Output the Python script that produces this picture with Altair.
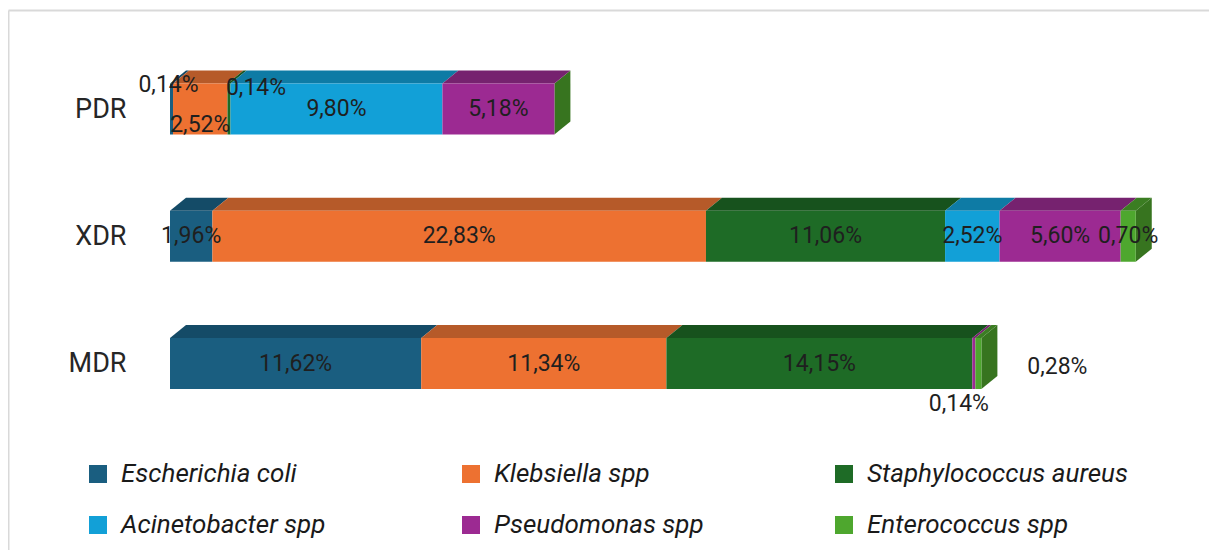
import altair as alt
import pandas as pd

# ---- data ----
categories = ["PDR", "XDR", "MDR"]
species = ["Escherichia coli", "Klebsiella spp", "Staphylococcus aureus",
           "Acinetobacter spp", "Pseudomonas spp", "Enterococcus spp"]
ecoli = [0.14, 1.96, 11.62]
klebsiella = [2.52, 22.83, 11.34]
staph = [0.14, 11.06, 14.15]
acineto = [9.80, 2.52, 0.00]
pseudo = [5.18, 5.60, 0.14]
entero = [0.00, 0.70, 0.28]
series = [ecoli, klebsiella, staph, acineto, pseudo, entero]

# ---- style ----
front_colors = ["#1a5e80", "#ed7131", "#1e6b26", "#12a0d7", "#9c2a92", "#4ea72e"]
top_colors = ["#144b67", "#b65a29", "#17521d", "#0e7ba5", "#76226f", "#3b7d22"]
side_color = "#37741f"
FONT = "Roboto"

W, H = 1201, 540
PX_PER_PCT = 21.62
PX_PER_ROW = 127.25
ZERO_PX = 162
ROW0_PX = 99
DEPTH_X = 16 / PX_PER_PCT
DEPTH_Y = 13 / PX_PER_ROW
HALF = 25.5 / PX_PER_ROW

# label nudges (pixels) for the few labels Excel moved by hand
nudges = {
    "PDR|Escherichia coli": (-3, -24),
    "PDR|Klebsiella spp": (0, 16),
    "PDR|Staphylococcus aureus": (27, -21),
    "MDR|Pseudomonas spp": (-15, 40),
    "MDR|Enterococcus spp": (79, 3),
}

front, top, side = [], [], []
for ri, cat in enumerate(categories):
    start = 0.0
    for si, sp in enumerate(species):
        v = series[si][ri]
        end = start + v
        key = f"{cat}|{sp}"
        front.append(dict(key=key, cat=cat, species=sp, value=v, start=start, end=end,
                          mid=(start + end) / 2, row=ri, y0=ri - HALF, y1=ri + HALF,
                          label=f"{v:.2f}%".replace(".", ",")))
        if v > 0:
            top.append(dict(key=key, yy=ri - HALF, xa=start, xb=end, col=top_colors[si]))
            top.append(dict(key=key, yy=ri - HALF - DEPTH_Y, xa=start + DEPTH_X,
                            xb=end + DEPTH_X, col=top_colors[si]))
        start = end
    side.append(dict(key=cat, xx=start, ya=ri - HALF, yb=ri + HALF, col=side_color))
    side.append(dict(key=cat, xx=start + DEPTH_X, ya=ri - HALF - DEPTH_Y,
                     yb=ri + HALF - DEPTH_Y, col=side_color))

df_front = pd.DataFrame(front)
df_front = df_front[df_front["value"] > 0]
df_top = pd.DataFrame(top)
df_side = pd.DataFrame(side)

xs = alt.Scale(domain=[-ZERO_PX / PX_PER_PCT, (W - ZERO_PX) / PX_PER_PCT], nice=False, zero=False)
ys = alt.Scale(domain=[-ROW0_PX / PX_PER_ROW, (H - ROW0_PX) / PX_PER_ROW], nice=False,
               zero=False, reverse=True)

label_expr = "[" + ",".join(f"'{c}'" for c in categories) + "][datum.value]"

x_axis = alt.Axis(orient="top", domain=True, domainColor="#d9d9d9", domainWidth=2,
                  ticks=False, labels=False, grid=False, title=None)
y_axis = alt.Axis(orient="left", values=list(range(len(categories))), labelExpr=label_expr,
                  domain=True, domainColor="#d9d9d9", domainWidth=2, ticks=False, grid=False,
                  title=None, labelPadding=-118, labelAlign="right", labelBaseline="middle",
                  labelFontSize=27, labelColor="#262626", labelFont=FONT)

side_layer = alt.Chart(df_side).mark_area(orient="vertical").encode(
    x=alt.X("xx:Q", scale=xs, axis=x_axis),
    y=alt.Y("ya:Q", scale=ys, axis=y_axis, stack=None),
    y2="yb:Q",
    color=alt.Color("col:N", scale=None),
    detail="key:N",
)

top_layer = alt.Chart(df_top).mark_area(orient="horizontal").encode(
    y=alt.Y("yy:Q", scale=ys),
    x=alt.X("xa:Q", scale=xs, stack=None),
    x2="xb:Q",
    color=alt.Color("col:N", scale=None),
    detail="key:N",
)

front_layer = alt.Chart(df_front).mark_rect().encode(
    x=alt.X("start:Q", scale=xs),
    x2="end:Q",
    y=alt.Y("y0:Q", scale=ys),
    y2="y1:Q",
    color=alt.Color("species:N", scale=alt.Scale(domain=species, range=front_colors),
                    legend=alt.Legend(orient="none", legendX=77, legendY=451, columns=3,
                                      direction="horizontal",
                                      gridAlign="all", columnPadding=76, rowPadding=25,
                                      symbolType="square", symbolSize=324,
                                      symbolStrokeWidth=0, labelFontSize=26,
                                      labelFontStyle="italic", labelFont=FONT,
                                      labelColor="#1a1a1a", labelOffset=10,
                                      labelLimit=500, title=None, padding=0)),
)

text_base = alt.Chart(df_front).encode(
    x=alt.X("mid:Q", scale=xs),
    y=alt.Y("row:Q", scale=ys),
    text="label:N",
)
text_style = dict(font=FONT, fontSize=23, color="#1f1f1f", baseline="middle", align="center")
nudge_list = "[" + ",".join(f"'{k}'" for k in nudges) + "]"
text_layers = [
    text_base.transform_filter(f"indexof({nudge_list}, datum.key) < 0").mark_text(**text_style)
]
for k, (dx, dy) in nudges.items():
    text_layers.append(
        text_base.transform_filter(alt.datum.key == k).mark_text(dx=dx, dy=dy, **text_style)
    )

chart = alt.layer(side_layer, top_layer, front_layer, *text_layers).properties(
    width=W, height=H,
    padding={"left": 0, "top": 2, "right": 0, "bottom": 0},
    autosize=alt.AutoSizeParams(type="none"),
).configure(font=FONT).configure_view(stroke="transparent", strokeWidth=0)

chart.save("out.html", embed_options={"renderer": "svg", "actions": False})
